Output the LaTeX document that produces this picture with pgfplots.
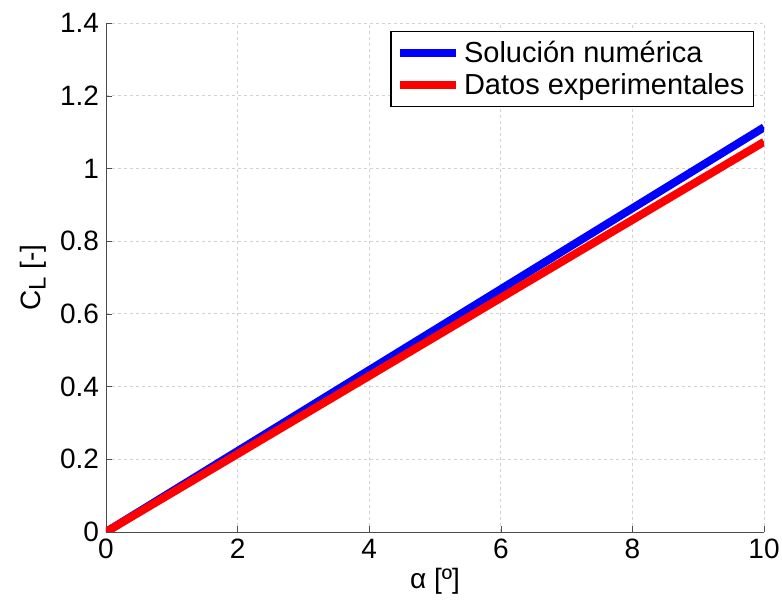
\documentclass[border=0pt]{standalone}
\usepackage{pgfplots}
\pgfplotsset{compat=1.18}
\usepackage{fontspec}
\setmainfont{Liberation Sans}
\begin{document}
\begin{tikzpicture}
\useasboundingbox (-53pt,-35.5pt) rectangle (338pt,266pt);
\begin{axis}[
  at={(0,0)}, anchor=south west,
  scale only axis, width=329pt, height=254.5pt,
  xmin=0, xmax=10, ymin=0, ymax=1.4,
  xtick={0,2,...,10},
  ytick={0,0.2,0.4,0.6,0.8,1,1.2,1.4},
  yticklabels={0,0.2,0.4,0.6,0.8,1,1.2,1.4},
  axis x line*=bottom, axis y line*=left,
  axis line style={draw=black!70, -},
  tick align=inside,
  major tick length=3pt,
  tick style={black!70},
  grid=major,
  grid style={dash pattern=on 1.5pt off 1.5pt, black!18},
  /pgf/number format/assume math mode=true,
  tick label style={font=\fontsize{14}{16}\selectfont},
  label style={font=\fontsize{14}{16}\selectfont},
  xlabel={α [º]},
  ylabel={C\raisebox{-0.35ex}{\fontsize{12}{14}\selectfont L} [-]},
  xlabel style={yshift=2pt},
  ylabel style={yshift=0pt},
  legend style={at={(0.985,0.984)}, anchor=north east, draw=black, line width=0.6pt,
    font=\fontsize{14.5}{17}\selectfont, inner sep=2.5pt, row sep=0pt,
    legend cell align=left},
  legend image code/.code={\draw[#1, line width=4pt] (0pt,0pt) -- (28pt,0pt);},
]
\addplot[blue, line width=4pt] coordinates {(0,0) (10,1.113)};
\addlegendentry{Solución numérica}
\addplot[red, line width=4pt] coordinates {(0,0) (10,1.073)};
\addlegendentry{Datos experimentales}
\end{axis}
\end{tikzpicture}
\end{document}
